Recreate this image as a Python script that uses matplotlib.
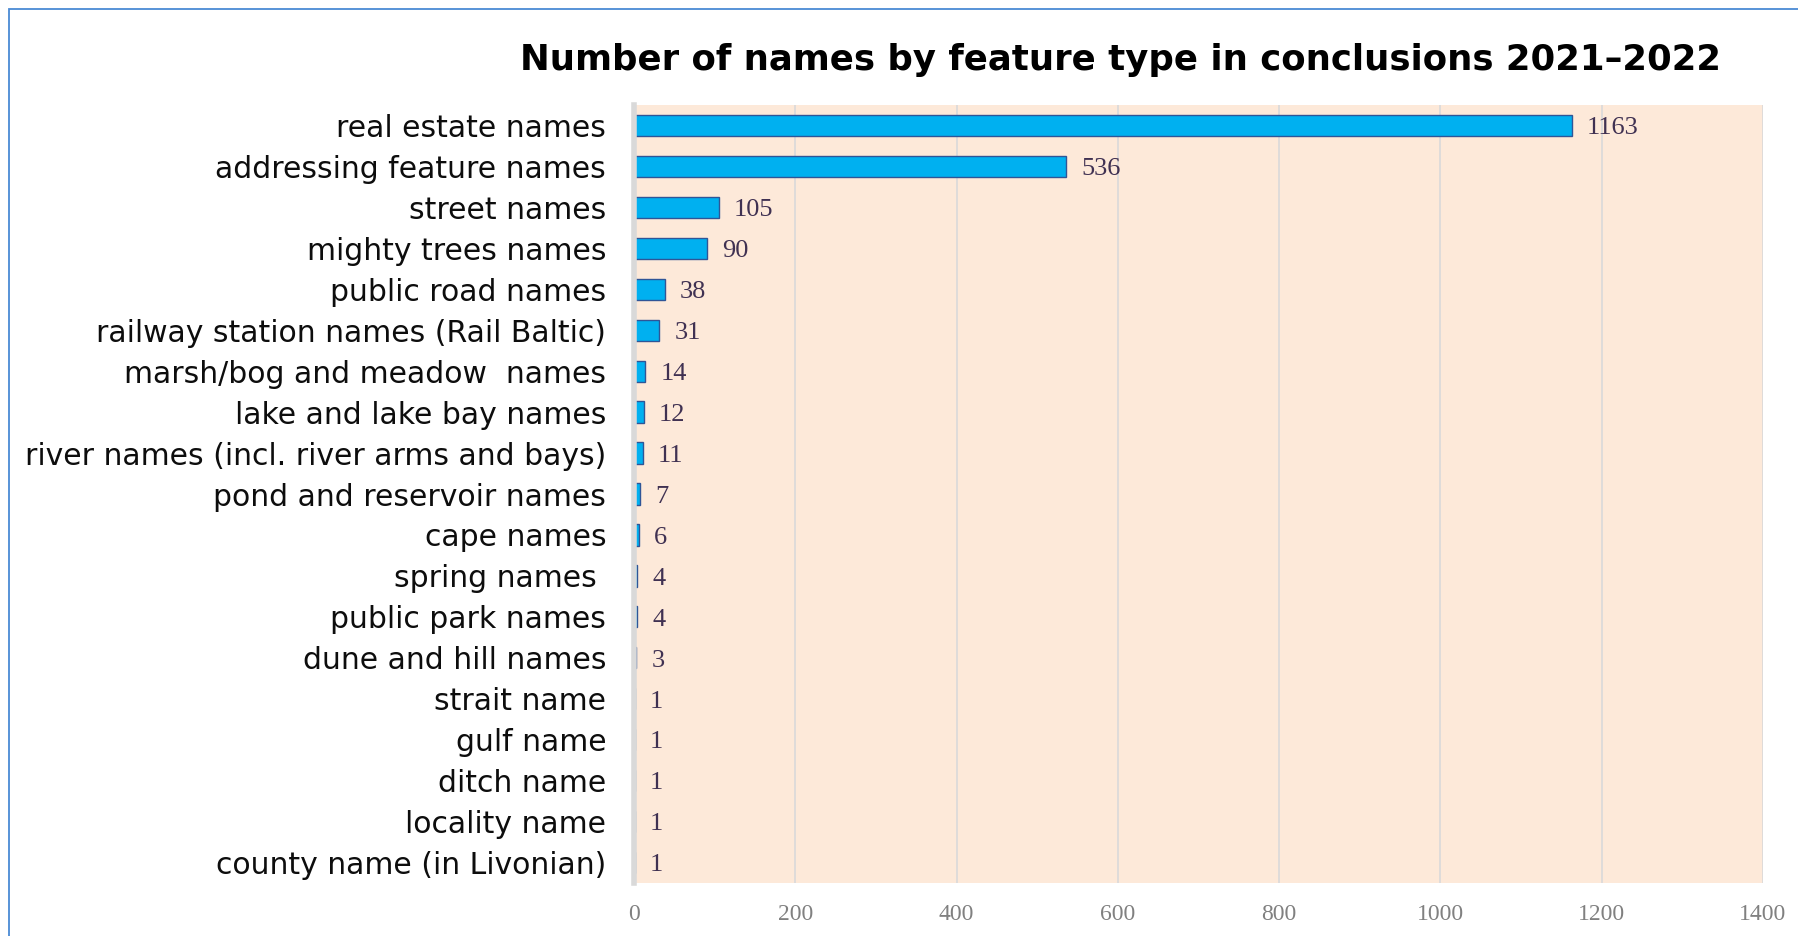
from matplotlib import pyplot as plt
from matplotlib.patches import Rectangle

# feature types, top to bottom as in the chart
categories = [
    "real estate names", "addressing feature names", "street names",
    "mighty trees names", "public road names",
    "railway station names (Rail Baltic)", "marsh/bog and meadow  names",
    "lake and lake bay names", "river names (incl. river arms and bays)",
    "pond and reservoir names", "cape names", "spring names ",
    "public park names", "dune and hill names", "strait name", "gulf name",
    "ditch name", "locality name", "county name (in Livonian)",
]
counts = [1163, 536, 105, 90, 38, 31, 14, 12, 11, 7, 6, 4, 4, 3, 1, 1, 1, 1, 1]
x_ticks = [0, 200, 400, 600, 800, 1000, 1200, 1400]

fig = plt.figure(figsize=(17.98, 9.36), dpi=100)
ax = fig.add_axes([634 / 1798, 1 - 883 / 936, (1763 - 634) / 1798, (883 - 105) / 936])

ax.set_facecolor("#fde9d9")
ypos = list(range(len(categories)))
ax.barh(ypos, counts, height=0.52, color="#00b0f0", edgecolor="#2f5597",
        linewidth=1.0, zorder=3)

for y, v in zip(ypos, counts):
    ax.annotate(str(v), xy=(v, y), xytext=(11, -2), textcoords="offset points",
                ha="left", va="center", fontsize=19, color="#403152",
                family="Liberation Serif", zorder=4)

ax.set_ylim(len(categories) - 0.5, -0.5)
ax.set_xlim(0, 1400)
ax.set_yticks(ypos)
ax.set_yticklabels(categories, fontsize=21.5, family="DejaVu Sans", color="#0d0d0d")
ax.set_xticks(x_ticks)
ax.set_xticklabels([str(t) for t in x_ticks], fontsize=17,
                   family="Liberation Serif", color="#808080")
ax.tick_params(axis="y", length=0, pad=20)
ax.tick_params(axis="x", length=0, pad=15)

ax.grid(axis="x", color="#d9d9d9", linewidth=1.2, zorder=0)
ax.set_axisbelow(True)
for s in ["top", "right", "bottom"]:
    ax.spines[s].set_visible(False)
ax.spines["left"].set_color("#d9d9d9")
ax.spines["left"].set_linewidth(4)
ax.spines["left"].set_zorder(5)

fig.text(1121 / 1798, 1 - 60 / 936,
         "Number of names by feature type in conclusions 2021\u20132022",
         ha="center", va="center", fontsize=25.6, fontweight="bold",
         family="DejaVu Sans", color="black")

# outer frame, only top and left edges are inside the picture
fig.patches.append(Rectangle((9 / 1798, -0.1), 1.2, 1 - 9 / 936 + 0.1,
                             transform=fig.transFigure, fill=False,
                             edgecolor="#4a8ad4", linewidth=1.3))

plt.savefig("out.png", dpi=100)
plt.close()
